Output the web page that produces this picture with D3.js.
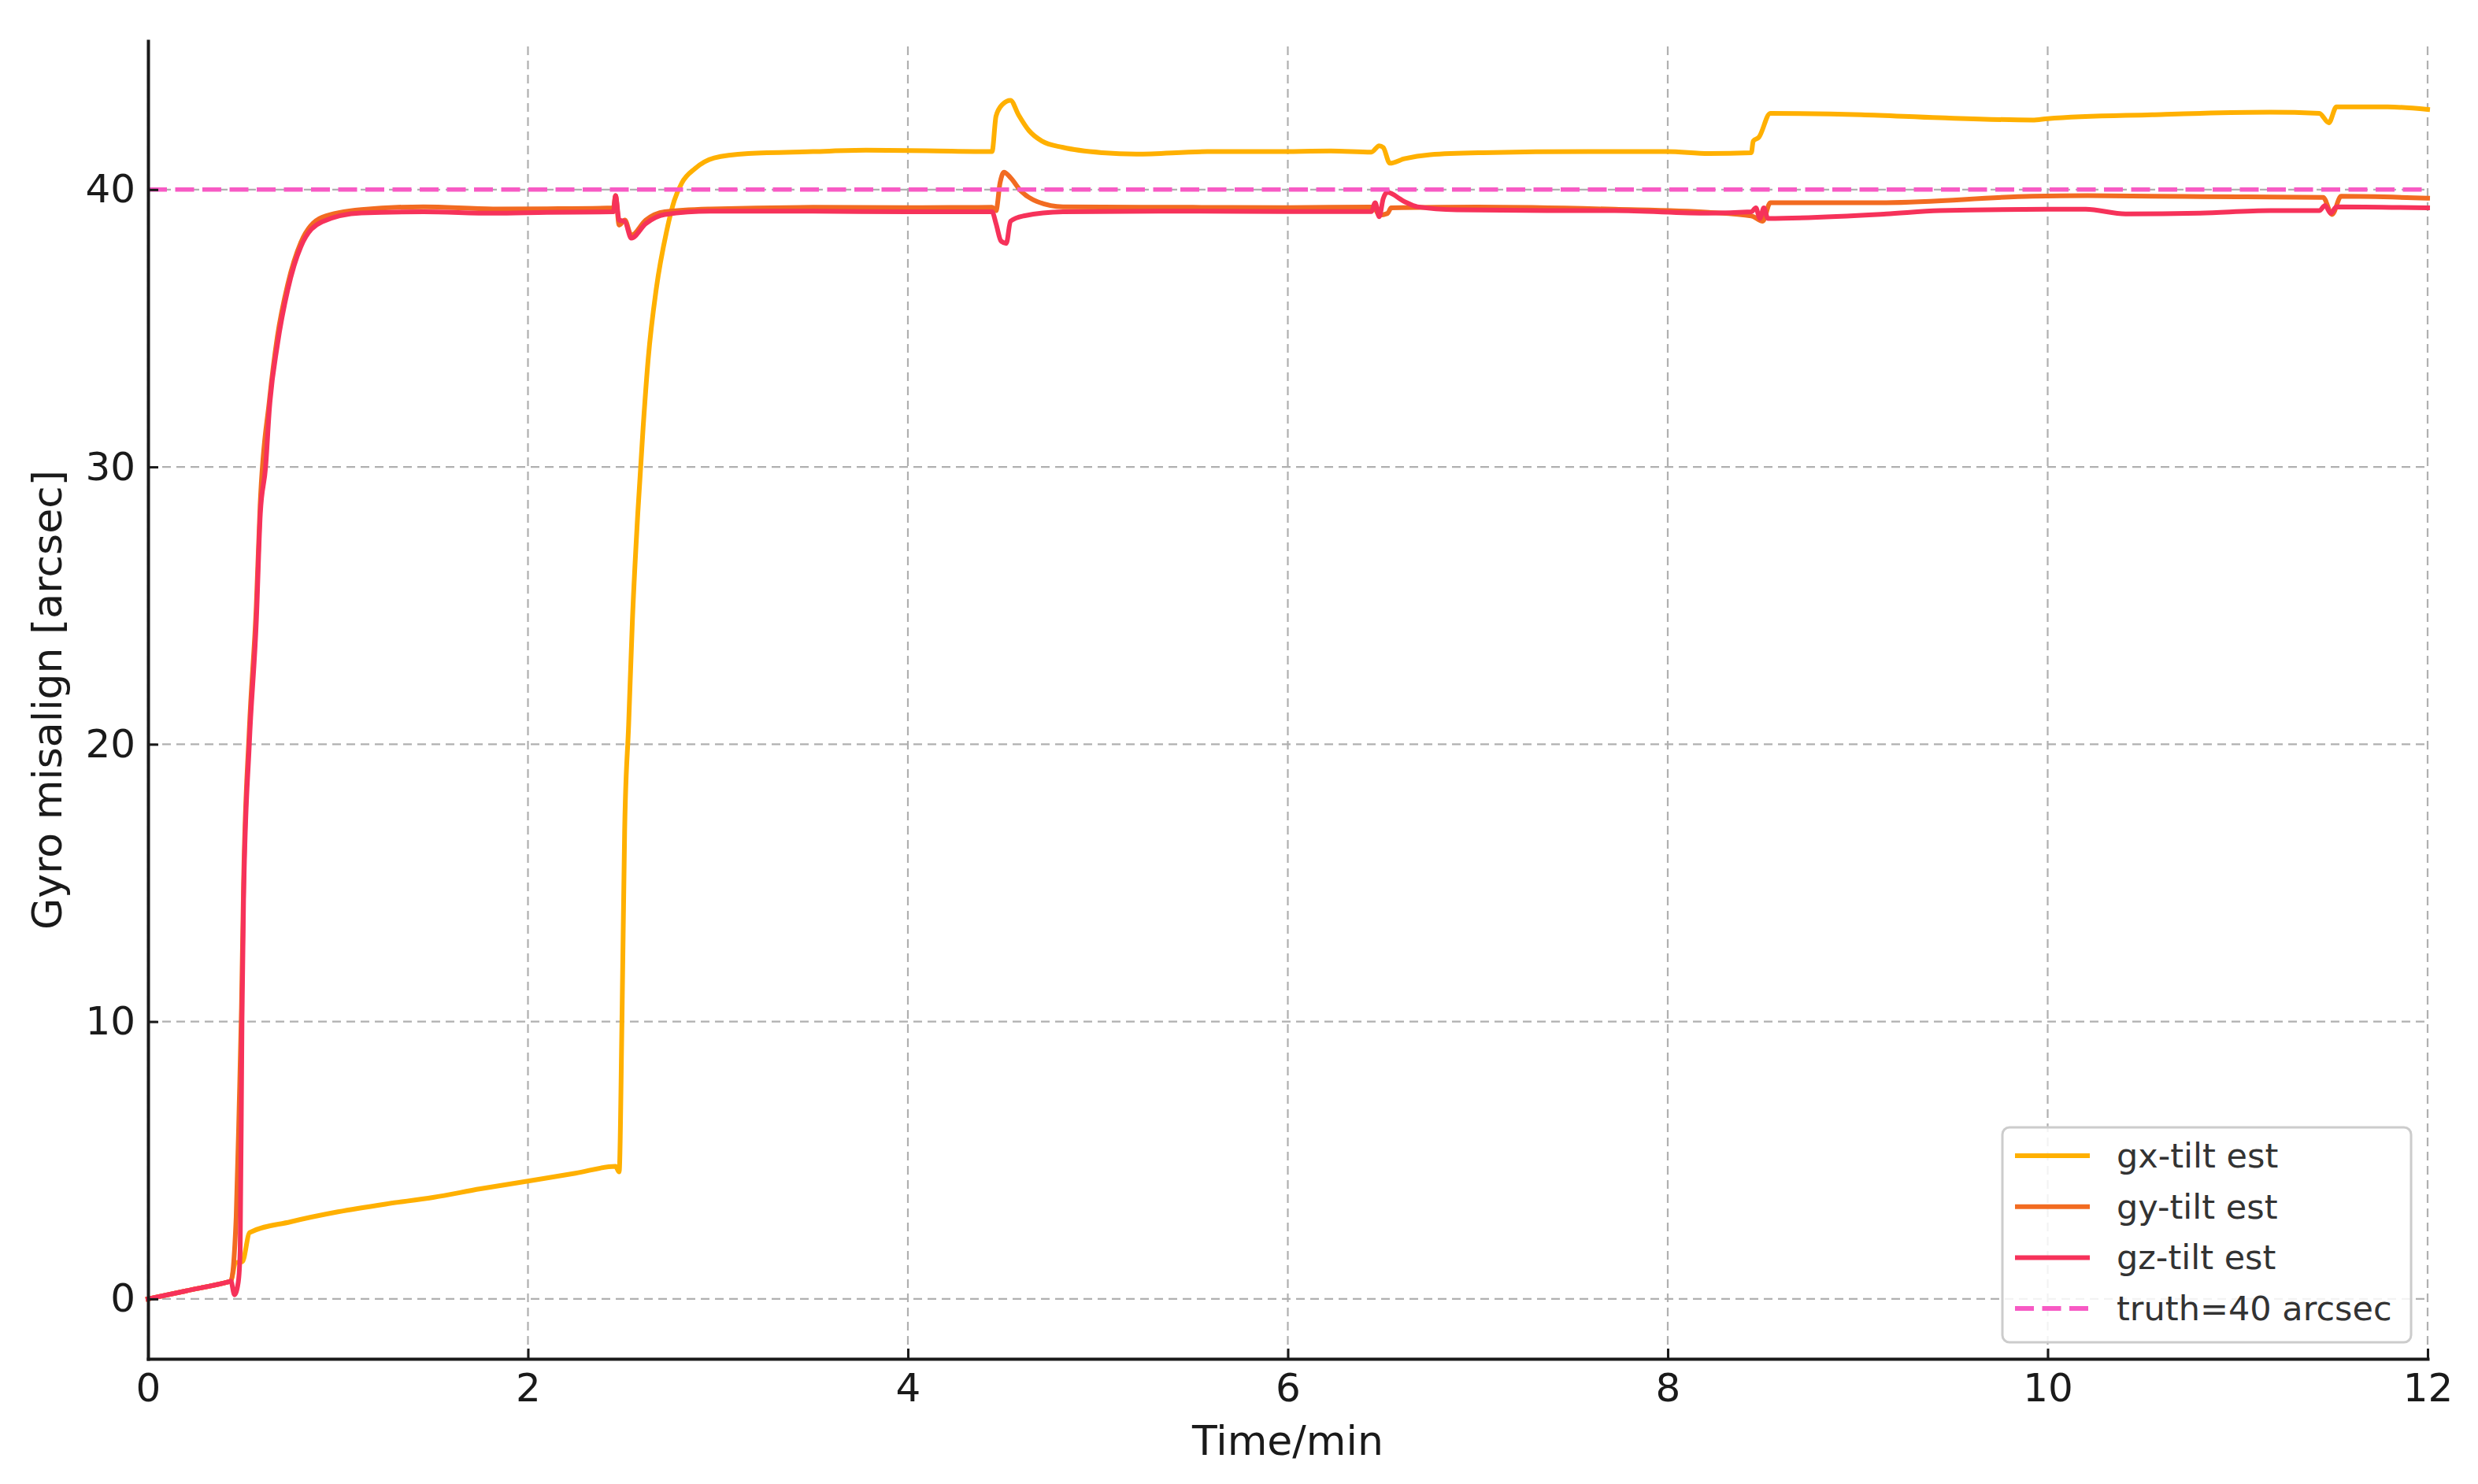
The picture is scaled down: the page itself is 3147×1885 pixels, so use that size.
<!DOCTYPE html>
<html>
<head>
<meta charset="utf-8">
<script src="https://cdn.jsdelivr.net/npm/d3@7"></script>
<style>
  html, body { margin: 0; padding: 0; background: #ffffff; }
  svg { display: block; }
  text { font-family: "DejaVu Sans", sans-serif; }
</style>
</head>
<body>
<script>
// ---------------- data ----------------
const xTicks = [0, 2, 4, 6, 8, 10, 12];
const yTicks = [0, 10, 20, 30, 40];
const xLabel = "Time/min";
const yLabel = "Gyro misalign [arcsec]";
const truthValue = 40;
const seriesNames = ["gx-tilt est", "gy-tilt est", "gz-tilt est"];
const truthName = "truth=40 arcsec";

const gxTime = [0, 0.2, 0.425, 0.436, 0.46, 0.497, 0.535, 0.75, 1.0, 1.25, 1.5, 1.75, 2.0, 2.25, 2.461, 2.48, 2.495,
  2.509, 2.53, 2.55, 2.578, 2.606, 2.633, 2.675, 2.73, 2.77, 2.81, 2.88, 2.98, 3.16, 3.5, 3.78,
  4.1, 4.443, 4.464, 4.499, 4.54, 4.582, 4.637, 4.705, 4.817, 5.024, 5.203, 5.576, 5.922, 6.226, 6.44,
  6.481, 6.502, 6.537, 6.613, 6.75, 7.027, 7.58, 7.996, 8.216, 8.44, 8.45, 8.48, 8.54, 9.02, 9.43,
  9.92, 10.0, 10.55, 11.17, 11.43, 11.48, 11.52, 11.79, 12.0];
const gxValue = [0, 0.29, 0.62, 0.64, 1.3, 1.35, 2.39, 2.78, 3.14, 3.42, 3.66, 3.97, 4.25, 4.53, 4.78, 4.58, 10.1,
  16.9, 20.7, 24.5, 28.3, 31.4, 33.9, 36.4, 38.5, 39.6, 40.24, 40.76, 41.14, 41.3, 41.37, 41.42,
  41.4, 41.37, 42.65, 43.08, 43.22, 42.7, 42.13, 41.75, 41.52, 41.33, 41.28, 41.37, 41.37, 41.39, 41.35,
  41.58, 41.52, 40.95, 41.11, 41.26, 41.33, 41.37, 41.37, 41.3, 41.33, 41.75, 41.89, 42.75, 42.7, 42.59,
  42.51, 42.56, 42.7, 42.79, 42.75, 42.41, 42.98, 42.98, 42.89];

const gyTime = [0, 0.2, 0.425, 0.436, 0.464, 0.48, 0.492, 0.503, 0.533, 0.57, 0.59, 0.639, 0.681, 0.736, 0.805, 0.916, 1.123,
  1.45, 1.817, 2.1, 2.45, 2.461, 2.48, 2.51, 2.544, 2.62, 2.72, 2.96, 3.5, 4.0, 4.443, 4.464,
  4.485, 4.506, 4.54, 4.595, 4.68, 4.817, 5.5, 6.0, 6.44, 6.46, 6.481, 6.525, 6.544, 7.0, 7.72,
  8.216, 8.44, 8.5, 8.54, 9.15, 9.92, 10.21, 10.55, 11.0, 11.45, 11.497, 11.545, 12.0];
const gyValue = [0, 0.29, 0.62, 0.64, 2.95, 7, 10.5, 15, 20.5, 25, 28.6, 32.4, 34.7, 36.6, 38.1, 39.0, 39.28,
  39.38, 39.3, 39.31, 39.34, 39.78, 38.72, 38.9, 38.35, 38.9, 39.2, 39.3, 39.36, 39.35, 39.36, 39.24,
  40.24, 40.63, 40.43, 39.95, 39.57, 39.38, 39.36, 39.35, 39.37, 39.3, 39.08, 39.14, 39.34, 39.37, 39.29,
  39.18, 39.05, 38.86, 39.53, 39.53, 39.76, 39.78, 39.76, 39.74, 39.72, 39.1, 39.76, 39.69];

const gzTime = [0, 0.2, 0.425, 0.436, 0.455, 0.475, 0.485, 0.4946, 0.503, 0.5332, 0.5705, 0.591, 0.619, 0.639, 0.681, 0.736, 0.805,
  0.916, 1.123, 1.45, 1.817, 2.1, 2.45, 2.461, 2.48, 2.51, 2.544, 2.62, 2.72, 2.96, 3.5, 4.0,
  4.443, 4.464, 4.49, 4.518, 4.54, 4.61, 4.817, 5.5, 6.0, 6.44, 6.46, 6.481, 6.502, 6.523, 6.613,
  6.682, 6.889, 7.442, 7.72, 8.216, 8.44, 8.464, 8.485, 8.506, 8.527, 9.15, 9.43, 10.0, 10.2, 10.41,
  10.8, 11.17, 11.43, 11.46, 11.49, 11.52, 12.0];
const gzValue = [0, 0.29, 0.62, 0.64, 0.15, 0.6, 1.75, 10, 14.4, 20, 24.5, 28.3, 30, 32.1, 34.4, 36.4, 37.95,
  38.84, 39.16, 39.2, 39.15, 39.18, 39.2, 39.78, 38.9, 38.85, 38.25, 38.77, 39.1, 39.22, 39.22, 39.2,
  39.2, 38.77, 38.15, 38.06, 38.86, 39.05, 39.2, 39.22, 39.21, 39.21, 39.53, 39.02, 39.67, 39.9, 39.57,
  39.38, 39.27, 39.24, 39.24, 39.15, 39.2, 39.34, 38.96, 39.34, 38.96, 39.12, 39.24, 39.29, 39.29, 39.12,
  39.15, 39.24, 39.24, 39.43, 39.15, 39.38, 39.34];

// ---------------- style ----------------
const W = 3147, H = 1885;
const colors = ["#FFB000", "#F26B21", "#F6325A"];
const truthColor = "#F75AC4";

const svg = d3.select("body").append("svg").attr("width", W).attr("height", H);
svg.append("rect").attr("width", W).attr("height", H).attr("fill", "#ffffff");

const x = d3.scaleLinear().domain([0, 12]).range([188, 3083]);
const y = d3.scaleLinear().domain([-2.16, 45.36]).range([1726, 52]);

// grid
const grid = svg.append("g");
grid.selectAll("line.gx").data(xTicks).join("line")
  .attr("x1", d => x(d)).attr("x2", d => x(d))
  .attr("y1", y.range()[0]).attr("y2", y.range()[1])
  .attr("stroke", "#b0b0b0").attr("stroke-width", 2.2).attr("stroke-dasharray", "11,7");
grid.selectAll("line.gy").data(yTicks).join("line")
  .attr("x1", x.range()[0]).attr("x2", x.range()[1])
  .attr("y1", d => y(d)).attr("y2", d => y(d))
  .attr("stroke", "#b0b0b0").attr("stroke-width", 2.2).attr("stroke-dasharray", "11,7");

// series
const series = [
  { name: seriesNames[0], t: gxTime, v: gxValue, color: colors[0] },
  { name: seriesNames[1], t: gyTime, v: gyValue, color: colors[1] },
  { name: seriesNames[2], t: gzTime, v: gzValue, color: colors[2] }
];
const line = d3.line().x(d => x(d[0])).y(d => y(d[1])).curve(d3.curveMonotoneX);
const plot = svg.append("g");
series.forEach(s => {
  const pts = s.t.map((t, i) => [t, s.v[i]]);
  plot.append("path").datum(pts)
    .attr("d", line)
    .attr("fill", "none")
    .attr("stroke", s.color)
    .attr("stroke-width", 6)
    .attr("stroke-linejoin", "round")
    .attr("stroke-linecap", "square");
});
// truth line
plot.append("line")
  .attr("x1", x(0)).attr("x2", x(12))
  .attr("y1", y(truthValue)).attr("y2", y(truthValue))
  .attr("stroke", truthColor).attr("stroke-width", 5.5).attr("stroke-dasharray", "24,10.5");

// axes
const xAxis = svg.append("g").attr("transform", `translate(0,${y.range()[0]})`)
  .call(d3.axisBottom(x).tickValues(xTicks).tickFormat(d3.format("d")).tickSize(-13).tickSizeOuter(0).tickPadding(18));
const yAxis = svg.append("g").attr("transform", `translate(${x.range()[0]},0)`)
  .call(d3.axisLeft(y).tickValues(yTicks).tickFormat(d3.format("d")).tickSize(-13).tickSizeOuter(0).tickPadding(16));
[xAxis, yAxis].forEach(a => {
  a.select(".domain").attr("stroke", "#1a1a1a").attr("stroke-width", 4).attr("stroke-linecap", "square");
  a.selectAll(".tick line").attr("stroke", "#1a1a1a").attr("stroke-width", 3);
  a.selectAll(".tick text").attr("fill", "#1a1a1a").style("font-size", "50px")
    .style("font-family", "DejaVu Sans, sans-serif");
});

// axis labels
svg.append("text").attr("x", (x.range()[0] + x.range()[1]) / 2).attr("y", 1848)
  .attr("text-anchor", "middle").attr("fill", "#1a1a1a").style("font-size", "52px").text(xLabel);
svg.append("text").attr("transform", `translate(78,${(y.range()[0] + y.range()[1]) / 2}) rotate(-90)`)
  .attr("text-anchor", "middle").attr("fill", "#1a1a1a").style("font-size", "52px").text(yLabel);

// legend
const leg = svg.append("g");
leg.append("rect").attr("x", 2543).attr("y", 1432).attr("width", 519).attr("height", 273)
  .attr("rx", 9).attr("fill", "#ffffff").attr("fill-opacity", 0.85)
  .attr("stroke", "#cccccc").attr("stroke-width", 3);
const legItems = series.map(s => ({ name: s.name, color: s.color, dash: null, w: 6 }))
  .concat([{ name: truthName, color: truthColor, dash: "24,10.5", w: 6 }]);
legItems.forEach((d, i) => {
  const ly = 1468 + i * 64.7;
  leg.append("line").attr("x1", 2559).attr("x2", 2654).attr("y1", ly).attr("y2", ly)
    .attr("stroke", d.color).attr("stroke-width", d.w)
    .attr("stroke-dasharray", d.dash);
  leg.append("text").attr("x", 2688).attr("y", ly + 15)
    .attr("fill", "#333333").style("font-size", "43px").text(d.name);
});
</script>
</body>
</html>
